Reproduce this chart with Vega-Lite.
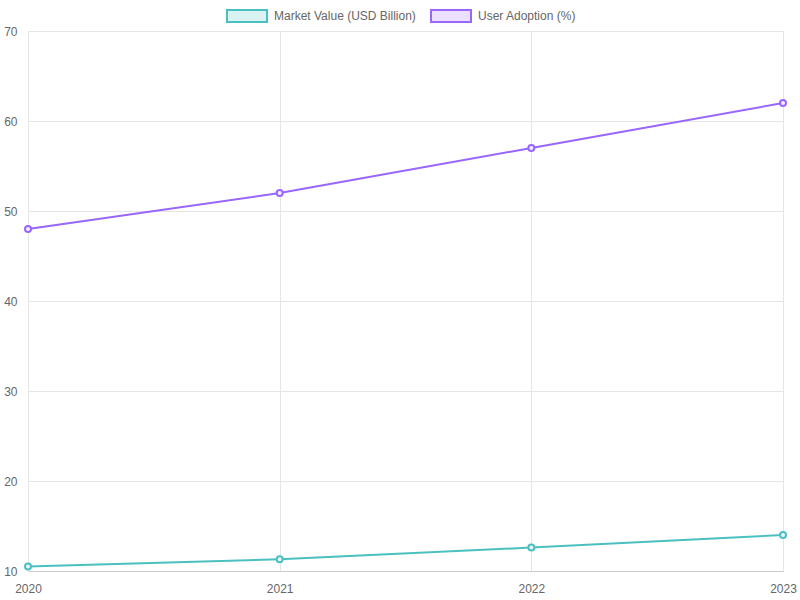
{
  "$schema": "https://vega.github.io/schema/vega-lite/v6.json",
  "autosize": {"type": "none"},
  "width": 755,
  "height": 540,
  "padding": {"left": 28, "top": 31, "right": 17, "bottom": 29},
  "background": "white",
  "config": {
    "font": "Liberation Sans",
    "view": {"stroke": null},
    "axis": {
      "labelFont": "Liberation Sans",
      "labelFontSize": 12,
      "labelColor": "#666666",
      "gridColor": "#e5e5e5",
      "gridWidth": 1,
      "ticks": false,
      "title": null
    }
  },
  "data": {
    "values": [
      {"year": "2020", "series": "Market Value (USD Billion)", "value": 10.5},
      {"year": "2021", "series": "Market Value (USD Billion)", "value": 11.3},
      {"year": "2022", "series": "Market Value (USD Billion)", "value": 12.6},
      {"year": "2023", "series": "Market Value (USD Billion)", "value": 14.0},
      {"year": "2020", "series": "User Adoption (%)", "value": 48},
      {"year": "2021", "series": "User Adoption (%)", "value": 52},
      {"year": "2022", "series": "User Adoption (%)", "value": 57},
      {"year": "2023", "series": "User Adoption (%)", "value": 62}
    ]
  },
  "encoding": {
    "x": {
      "field": "year",
      "type": "ordinal",
      "scale": {"type": "point", "padding": 0},
      "axis": {
        "labelAngle": 0,
        "labelPadding": 12,
        "domainColor": "#cccccc",
        "grid": true
      }
    },
    "y": {
      "field": "value",
      "type": "quantitative",
      "scale": {"domain": [10, 70], "nice": false, "zero": false},
      "axis": {
        "values": [10, 20, 30, 40, 50, 60, 70],
        "labelPadding": 11,
        "domainColor": "#e5e5e5",
        "grid": true
      }
    },
    "color": {
      "field": "series",
      "type": "nominal",
      "scale": {
        "domain": ["Market Value (USD Billion)", "User Adoption (%)"],
        "range": ["#4bc0c0", "#9966ff"]
      },
      "legend": {
        "title": null,
        "orient": "none",
        "direction": "horizontal",
        "legendX": 198,
        "legendY": -36,
        "symbolType": "M-1,-0.3H1V0.3H-1Z",
        "symbolSize": 1600,
        "symbolStrokeWidth": 2,
        "labelFontSize": 12,
        "labelColor": "#666666",
        "labelOffset": 6,
        "columnPadding": 11,
        "encode": {
          "symbols": {
            "update": {
              "fill": {"scale": "color", "field": "value"},
              "fillOpacity": {"value": 0.2}
            }
          }
        }
      }
    }
  },
  "layer": [
    {
      "mark": {"type": "line", "strokeWidth": 2}
    },
    {
      "mark": {
        "type": "point",
        "shape": "circle",
        "size": 36,
        "filled": false,
        "fill": "#f0f0ff",
        "strokeWidth": 2,
        "opacity": 1
      }
    }
  ]
}
